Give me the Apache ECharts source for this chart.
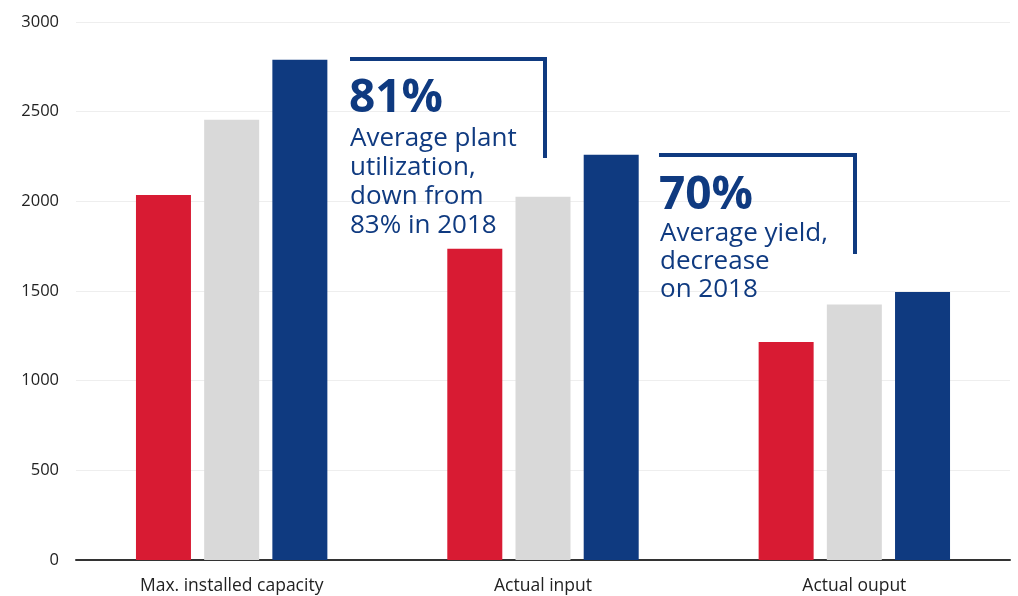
<!DOCTYPE html>
<html>
<head>
<meta charset="utf-8">
<script src="https://cdn.jsdelivr.net/npm/echarts@6/dist/echarts.min.js"></script>
<style>
  html, body { margin: 0; padding: 0; background: #fff; }
  #main { width: 1018px; height: 596px; }
</style>
</head>
<body>
<div id="main"></div>
<script>
// data
const categories = ['Max. installed capacity', 'Actual input', 'Actual ouput']
const redValues = [2035, 1735, 1215]
const grayValues = [2455, 2025, 1425]
const blueValues = [2790, 2260, 1495]

const blue = '#0f3a80'
const font = '"Open Sans", "Noto Sans", sans-serif'

let chart = echarts.init(document.getElementById('main'))

let bar = (data, color) => ({
  type: 'bar',
  data: data,
  barWidth: 55,
  barGap: '24%',
  itemStyle: { color: color },
  silent: true
})

// one text element per line, drawn above the grid lines
let lines = (x, y, step, texts) => texts.map((t, i) => ({
  type: 'text', x: x, y: y + i * step, z: 100,
  style: { text: t, fill: blue, fontSize: 26, fontFamily: font }
}))

let option = {
  animation: false,
  textStyle: { fontFamily: font },
  grid: { left: 76, right: 8, top: 22, bottom: 36 },
  xAxis: {
    type: 'category',
    data: categories,
    axisTick: { show: false },
    axisLine: { lineStyle: { color: '#333', width: 2 } },
    axisLabel: { color: '#222', fontSize: 17.5, margin: 17 }
  },
  yAxis: {
    type: 'value',
    min: 0,
    max: 3000,
    interval: 500,
    axisLabel: { color: '#222', fontSize: 16.5, margin: 17, formatter: v => String(v) },
    splitLine: { lineStyle: { color: '#eeeeee' } }
  },
  series: [
    bar(redValues, '#d81b33'),
    bar(grayValues, '#d9d9d9'),
    bar(blueValues, blue)
  ],
  graphic: [
    // first callout
    { type: 'polyline', z: 100, shape: { points: [[350, 59], [545, 59], [545, 158]] },
      style: { stroke: blue, lineWidth: 4, fill: null } },
    { type: 'text', x: 349, y: 76, z: 100,
      style: { text: '81%', fill: blue, fontSize: 46, fontWeight: 'bold', fontFamily: font } },
  ].concat(
    lines(350, 126, 29, ['Average plant', 'utilization,', 'down from', '83% in 2018']),
    [
      // second callout
      { type: 'polyline', z: 100, shape: { points: [[659, 155], [855, 155], [855, 254]] },
        style: { stroke: blue, lineWidth: 4, fill: null } },
      { type: 'text', x: 659, y: 173, z: 100,
        style: { text: '70%', fill: blue, fontSize: 46, fontWeight: 'bold', fontFamily: font } }
    ],
    lines(660, 221, 28, ['Average yield,', 'decrease', 'on 2018'])
  )
}
chart.setOption(option)
</script>
</body>
</html>
